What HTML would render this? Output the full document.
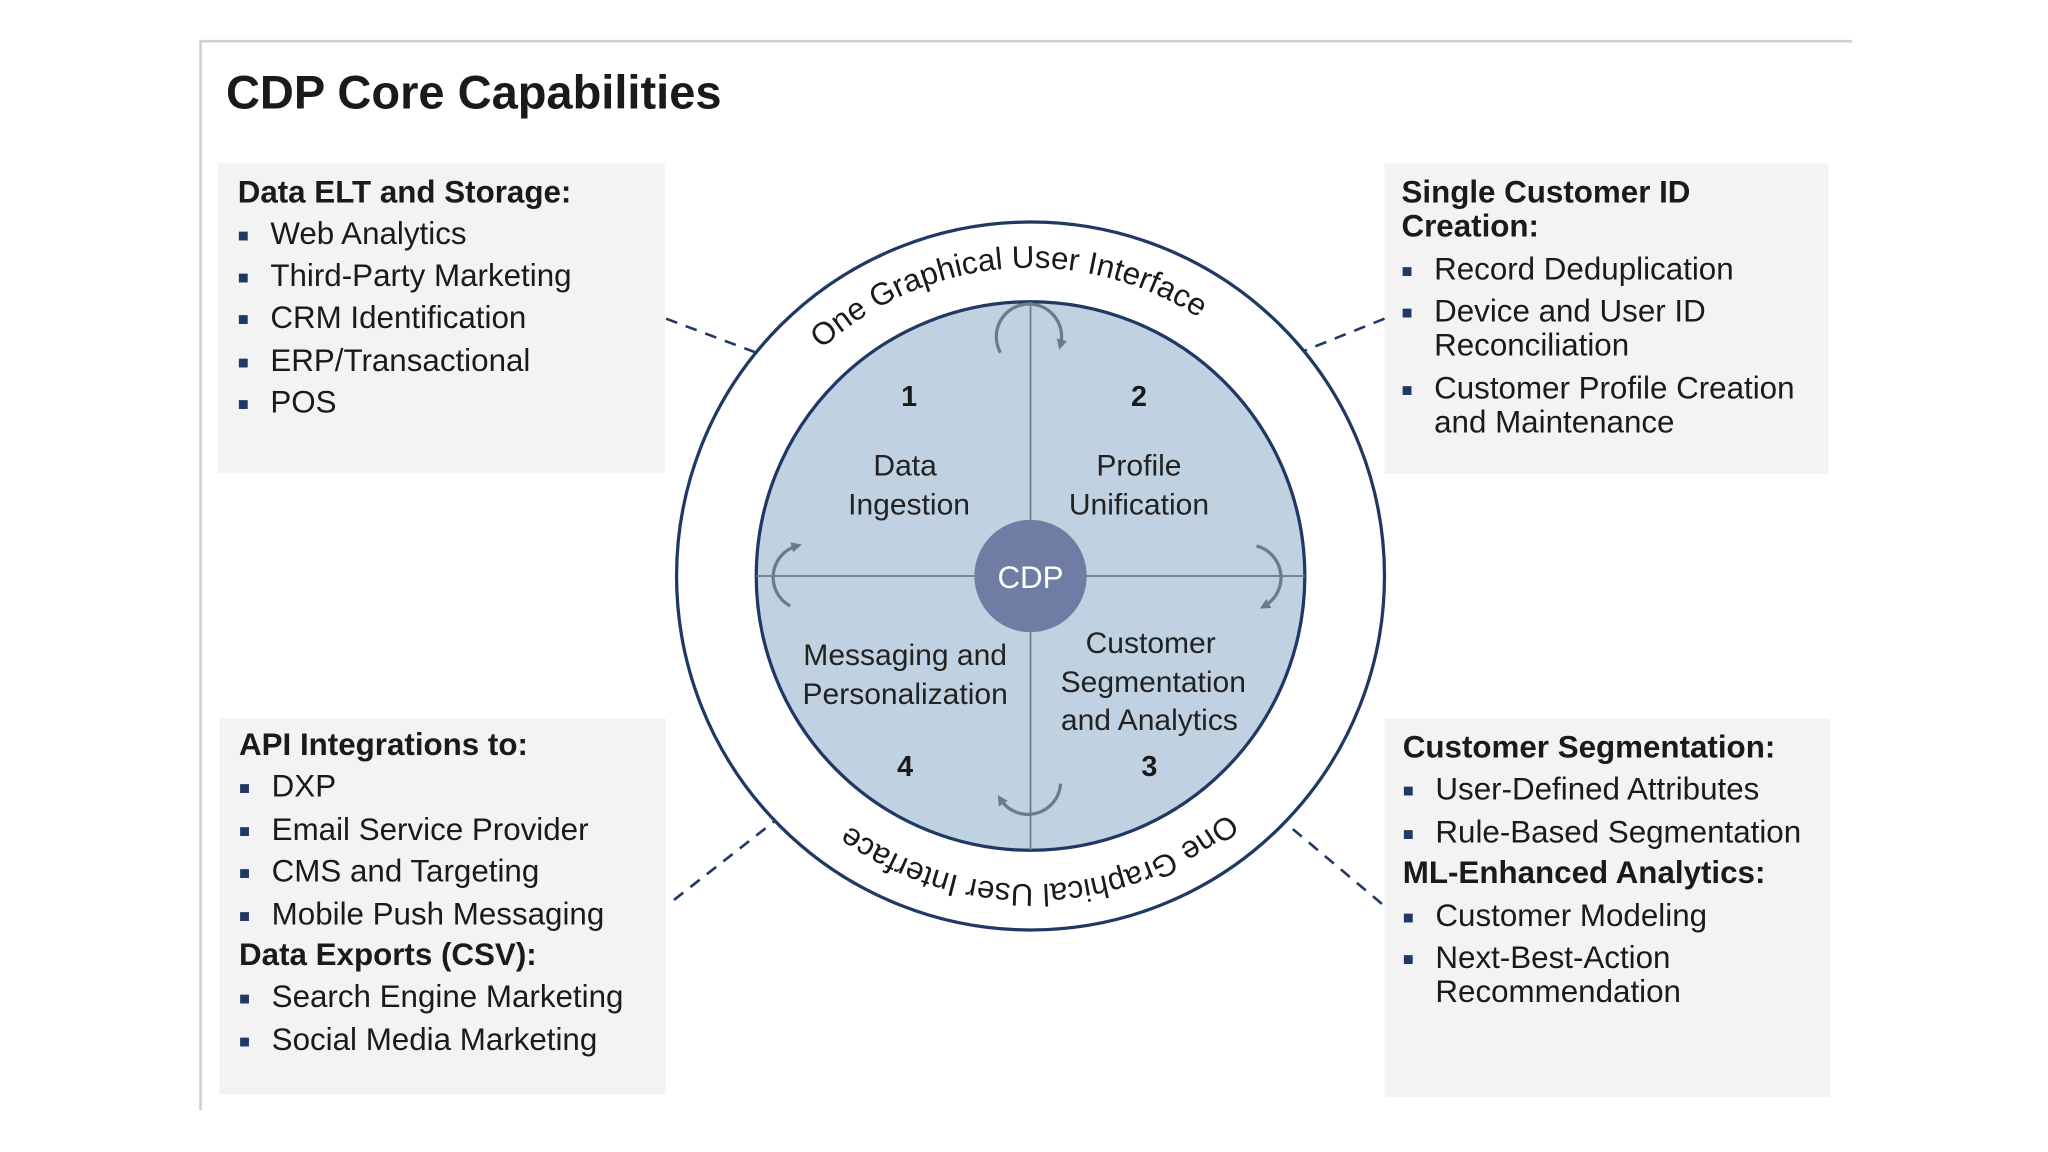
<!DOCTYPE html>
<html><head><meta charset="utf-8"><style>
html,body{margin:0;padding:0;background:#fff;}
svg{display:block;}
text{font-family:"Liberation Sans",Arial,sans-serif;fill:#1a1a1a;}
.h{font-weight:bold;font-size:24px;}
.i{font-size:24px;}
.b{font-size:14px;fill:#1f3864;}
.q{font-size:23px;text-anchor:middle;fill:#222;}
.n{font-size:22px;font-weight:bold;text-anchor:middle;}
</style></head><body>
<svg width="2048" height="1152" viewBox="0 0 1568 882" xmlns="http://www.w3.org/2000/svg">
<defs>
<marker id="ah" markerWidth="8" markerHeight="8" refX="4" refY="4" orient="auto" markerUnits="userSpaceOnUse">
<path d="M0,0 L8,4 L0,8 z" fill="#6d7b88"/></marker>
<path id="ring" d="M553,441 A236,236 0 1,1 1025,441 A236,236 0 1,1 553,441"/>
</defs>
<rect width="1568" height="882" fill="#fff"/>
<line x1="153.5" y1="31" x2="153.5" y2="850" stroke="#cfcfcf" stroke-width="2"/>
<line x1="153" y1="31.5" x2="1418" y2="31.5" stroke="#cfcfcf" stroke-width="2"/>
<text x="173" y="83" style="font-size:36px;font-weight:bold;">CDP Core Capabilities</text>

<rect x="167" y="125" width="342" height="237" fill="#f3f3f3"/>
<rect x="1060" y="125" width="340" height="238" fill="#f3f3f3"/>
<rect x="168" y="550" width="342" height="288" fill="#f3f3f3"/>
<rect x="1060" y="550" width="341" height="290" fill="#f3f3f3"/>

<g stroke="#1f3864" stroke-width="2" stroke-dasharray="9,7" fill="none">
<line x1="510" y1="244" x2="640" y2="293"/>
<line x1="1060" y1="244" x2="945" y2="290"/>
<line x1="516" y1="689" x2="640" y2="592"/>
<line x1="1058" y1="692" x2="940" y2="593"/>
</g>

<!-- TL -->
<text class="h" x="182" y="155">Data ELT and Storage:</text>
<g class="i">
<text class="b" x="182" y="185">■</text><text class="i" x="207" y="187">Web Analytics</text>
<text class="b" x="182" y="217">■</text><text class="i" x="207" y="219">Third-Party Marketing</text>
<text class="b" x="182" y="249">■</text><text class="i" x="207" y="251">CRM Identification</text>
<text class="b" x="182" y="282">■</text><text class="i" x="207" y="284">ERP/Transactional</text>
<text class="b" x="182" y="314">■</text><text class="i" x="207" y="316">POS</text>
</g>
<!-- TR -->
<text class="h" x="1073" y="155">Single Customer ID</text>
<text class="h" x="1073" y="181">Creation:</text>
<text class="b" x="1073" y="212">■</text><text class="i" x="1098" y="214">Record Deduplication</text>
<text class="b" x="1073" y="244">■</text><text class="i" x="1098" y="246">Device and User ID</text>
<text class="i" x="1098" y="272">Reconciliation</text>
<text class="b" x="1073" y="303">■</text><text class="i" x="1098" y="305">Customer Profile Creation</text>
<text class="i" x="1098" y="331">and Maintenance</text>
<!-- BL -->
<text class="h" x="183" y="578">API Integrations to:</text>
<text class="b" x="183" y="608">■</text><text class="i" x="208" y="610">DXP</text>
<text class="b" x="183" y="641">■</text><text class="i" x="208" y="643">Email Service Provider</text>
<text class="b" x="183" y="673">■</text><text class="i" x="208" y="675">CMS and Targeting</text>
<text class="b" x="183" y="706">■</text><text class="i" x="208" y="708">Mobile Push Messaging</text>
<text class="h" x="183" y="739">Data Exports (CSV):</text>
<text class="b" x="183" y="769">■</text><text class="i" x="208" y="771">Search Engine Marketing</text>
<text class="b" x="183" y="802">■</text><text class="i" x="208" y="804">Social Media Marketing</text>
<!-- BR -->
<text class="h" x="1074" y="580">Customer Segmentation:</text>
<text class="b" x="1074" y="610">■</text><text class="i" x="1099" y="612">User-Defined Attributes</text>
<text class="b" x="1074" y="643">■</text><text class="i" x="1099" y="645">Rule-Based Segmentation</text>
<text class="h" x="1074" y="676">ML-Enhanced Analytics:</text>
<text class="b" x="1074" y="707">■</text><text class="i" x="1099" y="709">Customer Modeling</text>
<text class="b" x="1074" y="739">■</text><text class="i" x="1099" y="741">Next-Best-Action</text>
<text class="i" x="1099" y="767">Recommendation</text>

<!-- circles -->
<circle cx="789" cy="441" r="271" fill="#fff" stroke="#1f3864" stroke-width="2.5"/>
<circle cx="789" cy="441" r="210" fill="#c0d1e2" stroke="#1f3864" stroke-width="2.5"/>
<line x1="579" y1="441" x2="999" y2="441" stroke="#6a7a8a" stroke-width="1.3"/>
<line x1="789" y1="231" x2="789" y2="651" stroke="#6a7a8a" stroke-width="1.3"/>
<circle cx="789" cy="441" r="43" fill="#6f7ca3"/>
<text x="789" y="450" style="font-size:24px;fill:#fff;text-anchor:middle;">CDP</text>

<text style="font-size:24px;fill:#1a1a1a;"><textPath href="#ring" startOffset="351" text-anchor="middle">One Graphical User Interface</textPath></text>
<text style="font-size:24px;fill:#1a1a1a;"><textPath href="#ring" startOffset="1104" text-anchor="middle">One Graphical User Interface</textPath></text>

<g fill="none" stroke="#6d7b88" stroke-width="2.5" marker-end="url(#ah)">
<path d="M766,270 A25,25 0 1,1 812,264"/>
<path d="M962,418 A25,25 0 0,1 968,464"/>
<path d="M812,600 A25,25 0 0,1 766,612"/>
<path d="M605,464 A25,25 0 0,1 610,418"/>
</g>

<text class="n" x="696" y="311">1</text>
<text class="n" x="872" y="311">2</text>
<text class="n" x="880" y="594">3</text>
<text class="n" x="693" y="594">4</text>
<text class="q" x="693" y="364">Data</text>
<text class="q" x="696" y="394">Ingestion</text>
<text class="q" x="872" y="364">Profile</text>
<text class="q" x="872" y="394">Unification</text>
<text class="q" x="693" y="509">Messaging and</text>
<text class="q" x="693" y="539">Personalization</text>
<text class="q" x="881" y="500">Customer</text>
<text class="q" x="883" y="530">Segmentation</text>
<text class="q" x="880" y="559">and Analytics</text>
</svg>
</body></html>
